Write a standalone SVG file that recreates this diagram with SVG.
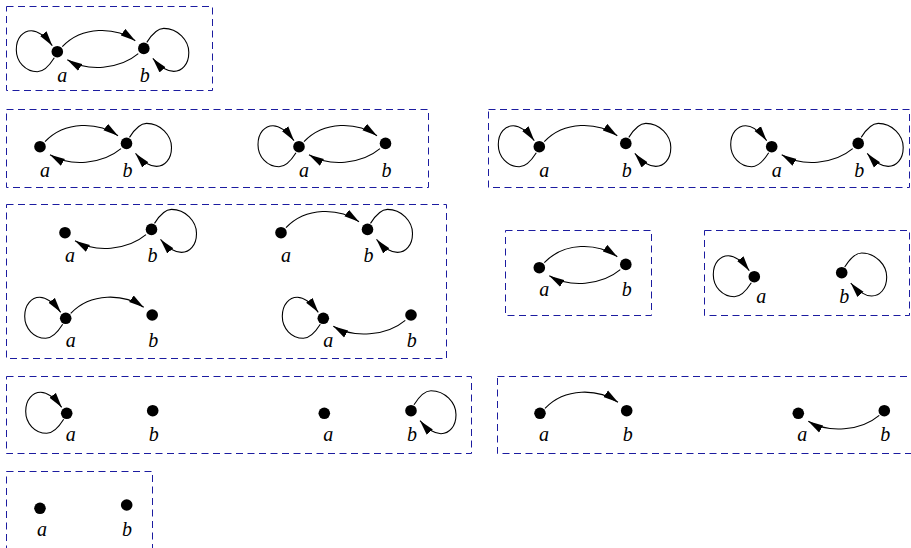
<svg xmlns="http://www.w3.org/2000/svg" width="911" height="548" viewBox="0 0 911 548">
<style>
.box{fill:none;stroke:#1c1ca0;stroke-width:1;stroke-dasharray:7,4.5}
.e{fill:none;stroke:#000;stroke-width:1.1;marker-end:url(#ah)}
.n{fill:#000}
.lbl{font-family:"Liberation Serif","Times New Roman",serif;font-style:italic;font-size:20px;fill:#000;text-anchor:middle}
</style>
<defs>
<marker id="ah" viewBox="0 0 15 9" refX="15" refY="4.5" markerWidth="15" markerHeight="9" markerUnits="userSpaceOnUse" orient="auto">
<path d="M0,0.5 L15,4.5 L0,8.5 z" fill="#000"/>
</marker>
</defs>
<g id="boxes">
<rect class="box" x="6.5" y="6.5" width="206" height="84"/>
<rect class="box" x="6.5" y="109.5" width="422" height="78"/>
<rect class="box" x="488.5" y="109.5" width="421" height="78"/>
<rect class="box" x="6.5" y="204.5" width="440" height="154"/>
<rect class="box" x="505.5" y="230.5" width="146" height="85"/>
<rect class="box" x="704.5" y="230.5" width="205" height="85"/>
<rect class="box" x="6.5" y="376.5" width="465" height="77"/>
<rect class="box" x="497.5" y="376.5" width="416" height="77"/>
<rect class="box" x="6.5" y="471.5" width="146" height="90"/>
</g>

<!-- G1 -->
<g id="G1" transform="translate(57.3,51.7)">
<g id="G1-edges">
<path class="e" d="M-3,6 C-8,14 -13,20 -20,20 C-32,20 -41,10 -41,-2 C-41,-14 -34,-21 -26,-21 C-18,-21 -11,-14 -5,-6"/>
<path class="e" d="M5,-5 C25,-26 58,-25 78,-11"/>
<path class="e" d="M81,2 C62,18 30,20 10,8"/>
<path class="e" d="M89.5,-9.3 C94.5,-17.3 99.5,-23.3 106.5,-23.3 C120.5,-23.3 131.5,-11.3 131.5,0.7 C131.5,12.7 124.5,19.7 116.5,19.7 C108.5,19.7 101.5,13.7 95.5,6.7"/>
</g>
<g id="G1-a"><circle class="n" cx="0" cy="0" r="5.8"/><text class="lbl" x="5" y="30">a</text></g>
<g id="G1-b"><circle class="n" cx="86.5" cy="-3.3" r="5.8"/><text class="lbl" x="87.5" y="30">b</text></g>
</g>

<!-- G2 -->
<g id="G2" transform="translate(40,146.7)">
<g id="G2-edges">
<path class="e" d="M5,-5 C25,-26 58,-25 78,-11"/>
<path class="e" d="M81,2 C62,18 30,20 10,8"/>
<path class="e" d="M89.5,-9.3 C94.5,-17.3 99.5,-23.3 106.5,-23.3 C120.5,-23.3 131.5,-11.3 131.5,0.7 C131.5,12.7 124.5,19.7 116.5,19.7 C108.5,19.7 101.5,13.7 95.5,6.7"/>
</g>
<g id="G2-a"><circle class="n" cx="0" cy="0" r="5.8"/><text class="lbl" x="5" y="30">a</text></g>
<g id="G2-b"><circle class="n" cx="86.5" cy="-3.3" r="5.8"/><text class="lbl" x="87.5" y="30">b</text></g>
</g>

<!-- G3 -->
<g id="G3" transform="translate(299,146.7)">
<g id="G3-edges">
<path class="e" d="M-3,6 C-8,14 -13,20 -20,20 C-32,20 -41,10 -41,-2 C-41,-14 -34,-21 -26,-21 C-18,-21 -11,-14 -5,-6"/>
<path class="e" d="M5,-5 C25,-26 58,-25 78,-11"/>
<path class="e" d="M81,2 C62,18 30,20 10,8"/>
</g>
<g id="G3-a"><circle class="n" cx="0" cy="0" r="5.8"/><text class="lbl" x="5" y="30">a</text></g>
<g id="G3-b"><circle class="n" cx="86.5" cy="-3.3" r="5.8"/><text class="lbl" x="87.5" y="30">b</text></g>
</g>

<!-- G4 -->
<g id="G4" transform="translate(539.3,146.7)">
<g id="G4-edges">
<path class="e" d="M-3,6 C-8,14 -13,20 -20,20 C-32,20 -41,10 -41,-2 C-41,-14 -34,-21 -26,-21 C-18,-21 -11,-14 -5,-6"/>
<path class="e" d="M5,-5 C25,-26 58,-25 78,-11"/>
<path class="e" d="M89.5,-9.3 C94.5,-17.3 99.5,-23.3 106.5,-23.3 C120.5,-23.3 131.5,-11.3 131.5,0.7 C131.5,12.7 124.5,19.7 116.5,19.7 C108.5,19.7 101.5,13.7 95.5,6.7"/>
</g>
<g id="G4-a"><circle class="n" cx="0" cy="0" r="5.8"/><text class="lbl" x="5" y="30">a</text></g>
<g id="G4-b"><circle class="n" cx="86.5" cy="-3.3" r="5.8"/><text class="lbl" x="87.5" y="30">b</text></g>
</g>

<!-- G5 -->
<g id="G5" transform="translate(771.7,146.7)">
<g id="G5-edges">
<path class="e" d="M-3,6 C-8,14 -13,20 -20,20 C-32,20 -41,10 -41,-2 C-41,-14 -34,-21 -26,-21 C-18,-21 -11,-14 -5,-6"/>
<path class="e" d="M81,2 C62,18 30,20 10,8"/>
<path class="e" d="M89.5,-9.3 C94.5,-17.3 99.5,-23.3 106.5,-23.3 C120.5,-23.3 131.5,-11.3 131.5,0.7 C131.5,12.7 124.5,19.7 116.5,19.7 C108.5,19.7 101.5,13.7 95.5,6.7"/>
</g>
<g id="G5-a"><circle class="n" cx="0" cy="0" r="5.8"/><text class="lbl" x="5" y="30">a</text></g>
<g id="G5-b"><circle class="n" cx="86.5" cy="-3.3" r="5.8"/><text class="lbl" x="87.5" y="30">b</text></g>
</g>

<!-- G6 -->
<g id="G6" transform="translate(65,232.7)">
<g id="G6-edges">
<path class="e" d="M81,2 C62,18 30,20 10,8"/>
<path class="e" d="M89.5,-9.3 C94.5,-17.3 99.5,-23.3 106.5,-23.3 C120.5,-23.3 131.5,-11.3 131.5,0.7 C131.5,12.7 124.5,19.7 116.5,19.7 C108.5,19.7 101.5,13.7 95.5,6.7"/>
</g>
<g id="G6-a"><circle class="n" cx="0" cy="0" r="5.8"/><text class="lbl" x="5" y="29">a</text></g>
<g id="G6-b"><circle class="n" cx="86.5" cy="-3.3" r="5.8"/><text class="lbl" x="87.5" y="29">b</text></g>
</g>

<!-- G7 -->
<g id="G7" transform="translate(281,232.7)">
<g id="G7-edges">
<path class="e" d="M5,-5 C25,-26 58,-25 78,-11"/>
<path class="e" d="M89.5,-9.3 C94.5,-17.3 99.5,-23.3 106.5,-23.3 C120.5,-23.3 131.5,-11.3 131.5,0.7 C131.5,12.7 124.5,19.7 116.5,19.7 C108.5,19.7 101.5,13.7 95.5,6.7"/>
</g>
<g id="G7-a"><circle class="n" cx="0" cy="0" r="5.8"/><text class="lbl" x="5" y="29">a</text></g>
<g id="G7-b"><circle class="n" cx="86.5" cy="-3.3" r="5.8"/><text class="lbl" x="87.5" y="29">b</text></g>
</g>

<!-- G8 -->
<g id="G8" transform="translate(65.7,318.3)">
<g id="G8-edges">
<path class="e" d="M-3,6 C-8,14 -13,20 -20,20 C-32,20 -41,10 -41,-2 C-41,-14 -34,-21 -26,-21 C-18,-21 -11,-14 -5,-6"/>
<path class="e" d="M5,-5 C25,-26 58,-25 78,-11"/>
</g>
<g id="G8-a"><circle class="n" cx="0" cy="0" r="5.8"/><text class="lbl" x="5" y="29">a</text></g>
<g id="G8-b"><circle class="n" cx="86.5" cy="-3.3" r="5.8"/><text class="lbl" x="87.5" y="29">b</text></g>
</g>

<!-- G9 -->
<g id="G9" transform="translate(323.3,318.3)">
<g id="G9-edges">
<path class="e" d="M-3,6 C-8,14 -13,20 -20,20 C-32,20 -41,10 -41,-2 C-41,-14 -34,-21 -26,-21 C-18,-21 -11,-14 -5,-6"/>
<path class="e" d="M82,2 C63,18 30,20 10,8"/>
</g>
<g id="G9-a"><circle class="n" cx="0" cy="0" r="5.8"/><text class="lbl" x="5" y="29">a</text></g>
<g id="G9-b"><circle class="n" cx="87.7" cy="-3.3" r="5.8"/><text class="lbl" x="88.5" y="29">b</text></g>
</g>

<!-- G10 -->
<g id="G10" transform="translate(539.3,267.7)">
<g id="G10-edges">
<path class="e" d="M5,-5 C25,-26 58,-25 78,-11"/>
<path class="e" d="M81,2 C62,18 30,20 10,8"/>
</g>
<g id="G10-a"><circle class="n" cx="0" cy="0" r="5.8"/><text class="lbl" x="5" y="28">a</text></g>
<g id="G10-b"><circle class="n" cx="86.5" cy="-3.3" r="5.8"/><text class="lbl" x="87.5" y="28">b</text></g>
</g>

<!-- G11 -->
<g id="G11" transform="translate(754.3,276.7)">
<g id="G11-edges">
<path class="e" d="M-3,6 C-8,14 -13,20 -20,20 C-32,20 -41,10 -41,-2 C-41,-14 -34,-21 -26,-21 C-18,-21 -11,-14 -5,-6"/>
<path class="e" d="M90.4,-9.7 C95.4,-17.7 100.4,-23.7 107.4,-23.7 C121.4,-23.7 132.4,-11.7 132.4,0.3 C132.4,12.3 125.4,19.3 117.4,19.3 C109.4,19.3 102.4,13.3 96.4,6.3"/>
</g>
<g id="G11-a"><circle class="n" cx="0" cy="0" r="5.8"/><text class="lbl" x="7" y="26.5">a</text></g>
<g id="G11-b"><circle class="n" cx="87.4" cy="-4" r="5.8"/><text class="lbl" x="90" y="26.5">b</text></g>
</g>

<!-- G12 -->
<g id="G12" transform="translate(66.7,413.3)">
<g id="G12-edges">
<path class="e" d="M-3,6 C-8,14 -13,20 -20,20 C-32,20 -41,10 -41,-2 C-41,-14 -34,-21 -26,-21 C-18,-21 -11,-14 -5,-6"/>
</g>
<g id="G12-a"><circle class="n" cx="0" cy="0" r="5.8"/><text class="lbl" x="4" y="28">a</text></g>
<g id="G12-b"><circle class="n" cx="86" cy="-2.6" r="5.8"/><text class="lbl" x="87" y="28">b</text></g>
</g>

<!-- G13 -->
<g id="G13" transform="translate(324.3,413.3)">
<g id="G13-edges">
<path class="e" d="M89.7,-8.6 C94.7,-16.6 99.7,-22.6 106.7,-22.6 C120.7,-22.6 131.7,-10.6 131.7,1.4 C131.7,13.4 124.7,20.4 116.7,20.4 C108.7,20.4 101.7,14.4 95.7,7.4"/>
</g>
<g id="G13-a"><circle class="n" cx="0" cy="0" r="5.8"/><text class="lbl" x="4" y="28">a</text></g>
<g id="G13-b"><circle class="n" cx="86.7" cy="-2.6" r="5.8"/><text class="lbl" x="87.7" y="28">b</text></g>
</g>

<!-- G14 -->
<g id="G14" transform="translate(540,413.3)">
<g id="G14-edges">
<path class="e" d="M5,-5 C25,-26 58,-25 78,-11"/>
</g>
<g id="G14-a"><circle class="n" cx="0" cy="0" r="5.8"/><text class="lbl" x="4" y="28">a</text></g>
<g id="G14-b"><circle class="n" cx="86.7" cy="-2.6" r="5.8"/><text class="lbl" x="87.7" y="28">b</text></g>
</g>

<!-- G15 -->
<g id="G15" transform="translate(798.3,413.3)">
<g id="G15-edges">
<path class="e" d="M81,2 C62,18 30,20 10,8"/>
</g>
<g id="G15-a"><circle class="n" cx="0" cy="0" r="5.8"/><text class="lbl" x="4" y="28">a</text></g>
<g id="G15-b"><circle class="n" cx="86" cy="-2.6" r="5.8"/><text class="lbl" x="87" y="28">b</text></g>
</g>

<!-- G16 -->
<g id="G16" transform="translate(40,508.3)">
<g id="G16-edges"></g>
<g id="G16-a"><circle class="n" cx="0" cy="0" r="5.8"/><text class="lbl" x="2" y="28">a</text></g>
<g id="G16-b"><circle class="n" cx="86.7" cy="-3.3" r="5.8"/><text class="lbl" x="87" y="28">b</text></g>
</g>
</svg>
